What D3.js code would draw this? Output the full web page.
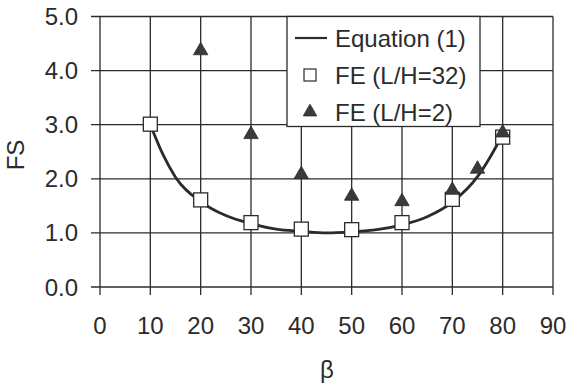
<!DOCTYPE html>
<html>
<head>
<meta charset="utf-8">
<script src="https://cdn.jsdelivr.net/npm/d3@7"></script>
<style>
  body { margin: 0; background: #fff; }
  text { font-family: "Liberation Sans", Arial, sans-serif; fill: #2b2b2b; }
</style>
</head>
<body>
<script>
// Data
var xTicks = [0, 10, 20, 30, 40, 50, 60, 70, 80, 90];
var yTicks = [0, 1, 2, 3, 4, 5];

// Equation (1) curve
var eqBeta = [10, 12.5, 15, 20, 25, 30, 35, 40, 45, 50, 55, 60, 65, 70, 75, 77.5, 80];
var eqFS   = [3.0, 2.45, 2.03, 1.58, 1.32, 1.17, 1.07, 1.03, 1.0, 1.02, 1.06, 1.15, 1.3, 1.57, 2.04, 2.4, 2.82];

// FE (L/H=32) - squares
var sqBeta = [10, 20, 30, 40, 50, 60, 70, 80];
var sqFS   = [3.01, 1.61, 1.19, 1.07, 1.06, 1.19, 1.62, 2.77];

// FE (L/H=2) - triangles
var trBeta = [20, 30, 40, 50, 60, 70, 75, 80];
var trFS   = [4.37, 2.82, 2.08, 1.68, 1.58, 1.79, 2.18, 2.85];

var legendLabels = ["Equation (1)", "FE (L/H=32)", "FE (L/H=2)"];

var w = 569, h = 384;
var ink = "#2b2b2b";

var svg = d3.select("body").append("svg")
    .attr("width", w)
    .attr("height", h);

var x = d3.scaleLinear().domain([0, 90]).range([100, 553]);
var y = d3.scaleLinear().domain([0, 5]).range([287, 16.5]);

// grid lines (with the little outward ticks)
svg.selectAll("line.gx")
    .data(xTicks)
  .enter().append("line")
    .attr("x1", function(d) { return x(d); })
    .attr("x2", function(d) { return x(d); })
    .attr("y1", y(5))
    .attr("y2", y(0) + 8)
    .attr("stroke", ink)
    .attr("stroke-width", 1.3);

svg.selectAll("line.gy")
    .data(yTicks)
  .enter().append("line")
    .attr("x1", x(0) - 9)
    .attr("x2", x(90))
    .attr("y1", function(d) { return y(d); })
    .attr("y2", function(d) { return y(d); })
    .attr("stroke", ink)
    .attr("stroke-width", 1.3);

// tick labels
svg.selectAll("text.xl")
    .data(xTicks)
  .enter().append("text")
    .attr("x", function(d) { return x(d); })
    .attr("y", 334)
    .attr("text-anchor", "middle")
    .style("font-size", "24px")
    .text(function(d) { return d; });

svg.selectAll("text.yl")
    .data(yTicks)
  .enter().append("text")
    .attr("x", 78)
    .attr("y", function(d) { return y(d) + 8.5; })
    .attr("text-anchor", "end")
    .style("font-size", "24px")
    .text(function(d) { return d.toFixed(1); });

// axis titles
svg.append("text")
    .attr("transform", "translate(24,155) rotate(-90)")
    .attr("text-anchor", "middle")
    .style("font-size", "24px")
    .text("FS");

svg.append("text")
    .attr("x", 327)
    .attr("y", 378)
    .attr("text-anchor", "middle")
    .style("font-size", "24px")
    .text("β");

// Equation (1) line
var line = d3.line()
    .x(function(d, i) { return x(eqBeta[i]); })
    .y(function(d) { return y(d); })
    .curve(d3.curveMonotoneX);

svg.append("path")
    .attr("d", line(eqFS))
    .attr("fill", "none")
    .attr("stroke", ink)
    .attr("stroke-width", 2.8);

// squares
var sq = 14;
svg.selectAll("rect.sq")
    .data(sqFS)
  .enter().append("rect")
    .attr("x", function(d, i) { return x(sqBeta[i]) - sq / 2; })
    .attr("y", function(d) { return y(d) - sq / 2; })
    .attr("width", sq)
    .attr("height", sq)
    .attr("fill", "#fff")
    .attr("stroke", ink)
    .attr("stroke-width", 1.3);

// triangles
var tri = d3.symbol().type(d3.symbolTriangle).size(90);
svg.selectAll("path.tr")
    .data(trFS)
  .enter().append("path")
    .attr("d", tri)
    .attr("transform", function(d, i) { return "translate(" + x(trBeta[i]) + "," + y(d) + ")"; })
    .attr("fill", "#3a3a3a")
    .attr("stroke", ink)
    .attr("stroke-width", 0.8);

// legend
var lg = svg.append("g");
lg.append("rect")
    .attr("x", 287)
    .attr("y", y(5))
    .attr("width", 193)
    .attr("height", 110)
    .attr("fill", "#fff")
    .attr("stroke", ink)
    .attr("stroke-width", 1.3);

var rowY = [38, 75, 112];

lg.append("line")
    .attr("x1", 295).attr("x2", 327)
    .attr("y1", rowY[0]).attr("y2", rowY[0])
    .attr("stroke", ink)
    .attr("stroke-width", 2.2);

lg.append("rect")
    .attr("x", 310 - 6).attr("y", rowY[1] - 6)
    .attr("width", 12).attr("height", 12)
    .attr("fill", "#fff")
    .attr("stroke", ink)
    .attr("stroke-width", 1.2);

lg.append("path")
    .attr("d", d3.symbol().type(d3.symbolTriangle).size(80)())
    .attr("transform", "translate(310," + rowY[2] + ")")
    .attr("fill", "#3a3a3a")
    .attr("stroke", ink)
    .attr("stroke-width", 0.8);

lg.selectAll("text.lg")
    .data(legendLabels)
  .enter().append("text")
    .attr("x", 335)
    .attr("y", function(d, i) { return rowY[i] + 9; })
    .style("font-size", "24px")
    .text(function(d) { return d; });
</script>
</body>
</html>
